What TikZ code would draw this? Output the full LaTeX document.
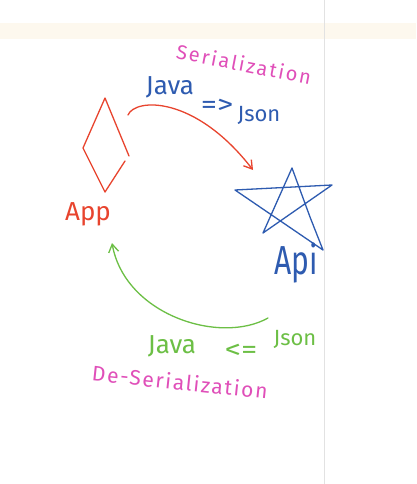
\documentclass[tikz,border=0pt]{standalone}
\usepackage{fontspec}
\setmainfont{Fira Sans}
\usetikzlibrary{arrows.meta}
\definecolor{penred}{HTML}{E8442E}
\definecolor{penblue}{HTML}{2E5BB0}
\definecolor{pengreen}{HTML}{6CBF45}
\definecolor{penpink}{HTML}{E04FB9}
\definecolor{bandcol}{HTML}{FDF8EE}
\definecolor{rulecol}{HTML}{E2E2E2}
\begin{document}
\begin{tikzpicture}[x=1pt,y=-1pt,
  pen/.style={line width=1.3pt,line cap=round,line join=round},
  lbl/.style={inner sep=0pt,anchor=center},
  tip/.style={-{Straight Barb[length=8pt,width=10pt,line width=1.3pt]}}]
\useasboundingbox (0,0) rectangle (416,484);
\fill[white] (0,0) rectangle (416,484);
\fill[bandcol] (0,23) rectangle (416,39);
\draw[rulecol,line width=0.8pt] (324,0) -- (324,484);

% App diamond
\coordinate (dT) at (105,98);
\coordinate (dL) at (83,148);
\coordinate (dB) at (105,192);
\coordinate (dR1) at (125,161);
\coordinate (dR2) at (129,156);
\draw[pen,penred] (dR2) -- (dT) -- (dL) -- (dB) -- (dR1);
\node[lbl,text=penred,font=\fontsize{26}{26}\selectfont] (app) at (88,214) {App};

% Api star
\coordinate (sT) at (292,168);
\coordinate (sL) at (235,190);
\coordinate (sR) at (332,185);
\coordinate (sBL) at (263,233);
\coordinate (sBR) at (323,250);
\coordinate (sK) at (310,217);
\draw[pen,penblue] (sT) -- (sBL) -- (sR) -- (sL) -- (sBR) -- (sK) -- (sT);
\node[lbl,text=penblue,font=\fontsize{30}{30}\selectfont,yscale=1.35] (api) at (296,263) {Api};

% Serialization
\node[lbl,text=penpink,font=\fontsize{20}{20}\selectfont\addfontfeatures{LetterSpace=10},rotate=-11] (ser) at (244,64) {Serialization};
\node[lbl,text=penblue,font=\fontsize{26}{26}\selectfont] (java1) at (170,87) {Java};
\node[lbl,text=penblue,font=\fontsize{26}{26}\selectfont,xscale=1.25] (arr1) at (217,106) {=>};
\node[lbl,text=penblue,font=\fontsize{22}{22}\selectfont] (json1) at (259,115) {Json};
\coordinate (r0) at (128,115);
\coordinate (r1) at (253,170);
\draw[pen,penred,tip] (r0) .. controls (135,98) and (195,95) .. (r1);

% De-Serialization
\coordinate (g0) at (268,318);
\coordinate (g1) at (112,243);
\draw[pen,pengreen,tip] (g0) .. controls (220,345) and (125,315) .. (g1);
\node[lbl,text=pengreen,font=\fontsize{26}{26}\selectfont] (java2) at (172,346) {Java};
\node[lbl,text=pengreen,font=\fontsize{26}{26}\selectfont,xscale=1.25] (arr2) at (241,351) {<=};
\node[lbl,text=pengreen,font=\fontsize{22}{22}\selectfont] (json2) at (295,339) {Json};
\node[lbl,text=penpink,font=\fontsize{21}{21}\selectfont\addfontfeatures{LetterSpace=8},rotate=-6] (deser) at (180,382) {De-Serialization};
\end{tikzpicture}
\end{document}
